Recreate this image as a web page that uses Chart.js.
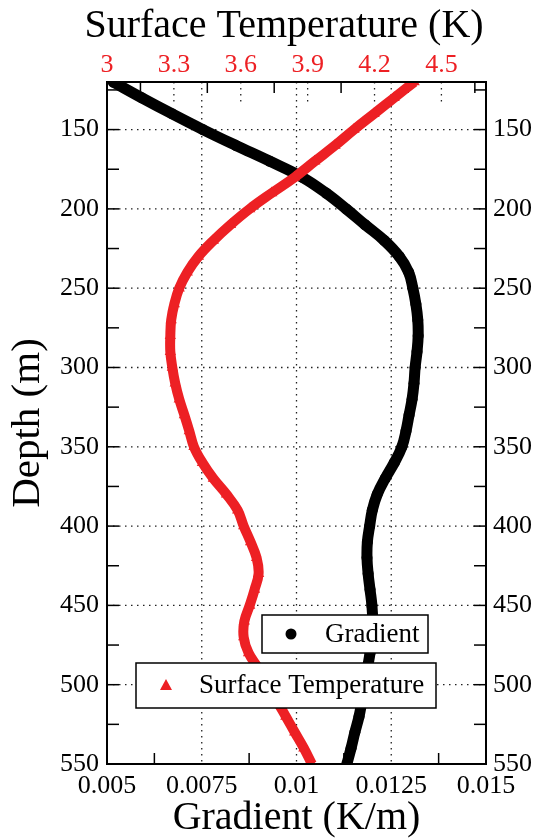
<!DOCTYPE html>
<html>
<head>
<meta charset="utf-8">
<script src="https://cdn.jsdelivr.net/npm/chart.js@4.4.0/dist/chart.umd.min.js"></script>
<style>
    html, body { margin: 0; padding: 0; background: #fff; }
    #wrap { width: 540px; height: 838px; }
</style>
</head>
<body>
<div id="wrap"><canvas id="profil" width="540" height="838"></canvas></div>
<script>
// adancimi (m), din 10 in 10
const depths = [120, 130, 140, 150, 160, 170, 180, 190, 200, 210,
                220, 230, 240, 250, 260, 270, 280, 290, 300, 310,
                320, 330, 340, 350, 360, 370, 380, 390, 400, 410,
                420, 430, 440, 450, 460, 470, 480, 490, 500, 510,
                520, 530, 540, 550];

// gradient (K/m)
const gradient = [0.00516, 0.00592, 0.00671, 0.00753, 0.00840, 0.00930, 0.01015, 0.01078, 0.01131, 0.01181,
                  0.01232, 0.01271, 0.01296, 0.01307, 0.01315, 0.01320, 0.01321, 0.01318, 0.01313, 0.01310,
                  0.01305, 0.01297, 0.01289, 0.01278, 0.01258, 0.01234, 0.01213, 0.01200, 0.01193, 0.01187,
                  0.01186, 0.01189, 0.01194, 0.01199, 0.01201, 0.01199, 0.01194, 0.01187, 0.01181, 0.01173,
                  0.01165, 0.01154, 0.01144, 0.01133];

// temperatura la suprafata (K)
const surfaceTemp = [4.378, 4.288, 4.198, 4.108, 4.023, 3.932, 3.842, 3.739, 3.640, 3.554,
                     3.477, 3.410, 3.360, 3.324, 3.302, 3.288, 3.284, 3.284, 3.293, 3.306,
                     3.324, 3.347, 3.369, 3.390, 3.428, 3.477, 3.536, 3.586, 3.613, 3.644,
                     3.671, 3.680, 3.662, 3.640, 3.616, 3.613, 3.635, 3.680, 3.716, 3.761,
                     3.802, 3.842, 3.883, 3.919];

const depthTicks = [150, 200, 250, 300, 350, 400, 450, 500, 550];
const gradTicks = [0.005, 0.0075, 0.01, 0.0125, 0.015];
const tempTicks = [3, 3.3, 3.6, 3.9, 4.2, 4.5];

const ROSU = 'rgb(237, 32, 36)';
const FONT = "'Liberation Serif', 'Times New Roman', serif";

function linie(ctx, x1, y1, x2, y2) {
    ctx.beginPath();
    ctx.moveTo(x1, y1);
    ctx.lineTo(x2, y2);
    ctx.stroke();
}

const ramaPlugin = {
    id: 'rama',
    beforeDatasetsDraw(chart) {
        const { ctx, chartArea: a, scales } = chart;
        ctx.save();
        ctx.strokeStyle = '#222';
        ctx.lineWidth = 1.3;
        ctx.setLineDash([1.5, 4.5]);
        gradTicks.slice(1, -1).forEach(v => {
            const x = scales.x.getPixelForValue(v);
            linie(ctx, x, a.top, x, a.bottom);
        });
        depthTicks.slice(0, -1).forEach(v => {
            const y = scales.y.getPixelForValue(v);
            linie(ctx, a.left, y, a.right, y);
        });
        tempTicks.slice(1).forEach(v => {
            const x = scales.x2.getPixelForValue(v);
            linie(ctx, x, a.top, x, a.top + 20);
        });
        ctx.setLineDash([]);
        ctx.lineWidth = 1.5;
        ctx.strokeStyle = '#000';
        // tick-uri scurte spre interior
        for (let d = 125; d < 550; d += 25) {
            const y = scales.y.getPixelForValue(d);
            linie(ctx, a.left, y, a.left + 12, y);
            linie(ctx, a.right, y, a.right - 12, y);
        }
        for (let i = 0; i < gradTicks.length - 1; i++) {
            const x = scales.x.getPixelForValue((gradTicks[i] + gradTicks[i + 1]) / 2);
            linie(ctx, x, a.bottom, x, a.bottom - 11);
        }
        tempTicks.forEach(v => {
            const x = scales.x2.getPixelForValue(v + 0.15);
            linie(ctx, x, a.top, x, a.top + 11);
        });

        // titlul axei de sus
        ctx.fillStyle = '#000';
        ctx.font = '40px ' + FONT;
        ctx.textAlign = 'center';
        ctx.textBaseline = 'alphabetic';
        ctx.fillText('Surface Temperature (K)', 284, 37);
        ctx.restore();
    },
    afterDraw(chart) {
        const { ctx, chartArea: a } = chart;
        ctx.save();
        ctx.strokeStyle = '#000';
        ctx.lineWidth = 2;
        ctx.strokeRect(a.left, a.top, a.right - a.left, a.bottom - a.top);

        // legenda
        const ds = chart.data.datasets;
        ctx.lineWidth = 1.5;
        ctx.fillStyle = '#fff';
        ctx.fillRect(262, 615, 166, 38);
        ctx.strokeRect(262, 615, 166, 38);
        ctx.fillRect(136, 663, 300, 45);
        ctx.strokeRect(136, 663, 300, 45);

        ctx.fillStyle = '#000';
        ctx.beginPath();
        ctx.arc(291, 634, 5.5, 0, Math.PI * 2);
        ctx.fill();
        ctx.fillStyle = ROSU;
        ctx.beginPath();
        ctx.moveTo(166, 679);
        ctx.lineTo(172, 690);
        ctx.lineTo(160, 690);
        ctx.closePath();
        ctx.fill();

        ctx.fillStyle = '#000';
        ctx.font = '27px ' + FONT;
        ctx.textBaseline = 'middle';
        ctx.fillText(ds[1].label, 325, 635);
        ctx.fillText(ds[0].label, 199, 686);
        ctx.restore();
    }
};

const ctx = document.getElementById('profil').getContext('2d');
new Chart(ctx, {
    type: 'line',
    data: {
        datasets: [{
            label: 'Surface Temperature',
            data: depths.map((d, i) => ({ x: surfaceTemp[i], y: d })),
            xAxisID: 'x2',
            yAxisID: 'y',
            borderColor: ROSU,
            backgroundColor: ROSU,
            borderWidth: 10,
            pointStyle: 'triangle',
            pointRadius: 6.5,
            pointBorderWidth: 0,
            tension: 0.4,
            order: 0
        }, {
            label: 'Gradient',
            data: depths.map((d, i) => ({ x: gradient[i], y: d })),
            xAxisID: 'x',
            yAxisID: 'y',
            borderColor: '#000',
            backgroundColor: '#000',
            borderWidth: 11,
            pointStyle: 'circle',
            pointRadius: 5.5,
            pointBorderWidth: 0,
            tension: 0.4,
            order: 1
        }]
    },
    options: {
        responsive: false,
        animation: false,
        layout: { padding: 0 },
        plugins: {
            legend: { display: false },
            tooltip: { enabled: false }
        },
        scales: {
            x: {
                type: 'linear',
                position: 'bottom',
                min: 0.005,
                max: 0.015,
                afterBuildTicks: s => { s.ticks = gradTicks.map(v => ({ value: v })); },
                afterFit: s => { s.height = 74; },
                grid: { display: false, drawTicks: false },
                border: { display: false },
                ticks: {
                    autoSkip: false,
                    maxRotation: 0,
                    padding: 7,
                    color: '#000',
                    font: { family: FONT, size: 26 },
                    callback: v => String(v)
                },
                title: {
                    display: true,
                    text: 'Gradient (K/m)',
                    color: '#000',
                    font: { family: FONT, size: 40 },
                    padding: { top: 0, bottom: -4 }
                }
            },
            x2: {
                type: 'linear',
                position: 'top',
                min: 3,
                max: 4.7,
                afterBuildTicks: s => { s.ticks = tempTicks.map(v => ({ value: v })); },
                afterFit: s => { s.height = 82; },
                grid: { display: false, drawTicks: false },
                border: { display: false },
                ticks: {
                    autoSkip: false,
                    maxRotation: 0,
                    padding: 1,
                    color: ROSU,
                    font: { family: FONT, size: 26 },
                    callback: v => String(v)
                }
            },
            y: {
                type: 'linear',
                position: 'left',
                reverse: true,
                min: 120,
                max: 550,
                afterBuildTicks: s => { s.ticks = depthTicks.map(v => ({ value: v })); },
                afterFit: s => { s.width = 107; },
                grid: { display: false, drawTicks: false },
                border: { display: false },
                ticks: {
                    autoSkip: false,
                    padding: 8,
                    color: '#000',
                    font: { family: FONT, size: 26 },
                    callback: v => String(v)
                },
                title: {
                    display: true,
                    text: 'Depth (m)',
                    color: '#000',
                    font: { family: FONT, size: 41 },
                    padding: { top: 4, bottom: 0 }
                }
            },
            y2: {
                type: 'linear',
                position: 'right',
                reverse: true,
                min: 120,
                max: 550,
                afterBuildTicks: s => { s.ticks = depthTicks.map(v => ({ value: v })); },
                afterFit: s => { s.width = 54; },
                grid: { display: false, drawTicks: false },
                border: { display: false },
                ticks: {
                    autoSkip: false,
                    padding: 7,
                    color: '#000',
                    font: { family: FONT, size: 26 },
                    callback: v => String(v)
                }
            }
        }
    },
    plugins: [ramaPlugin]
});
</script>
</body>
</html>
